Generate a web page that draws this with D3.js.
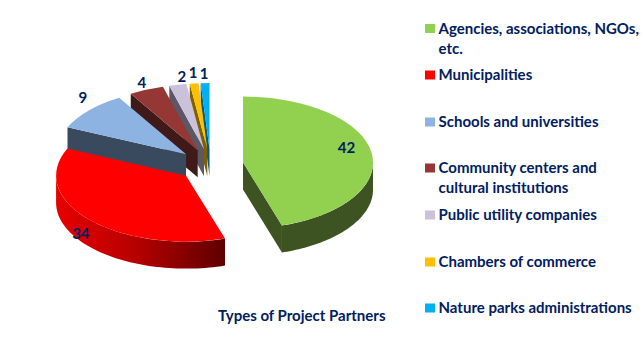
<!DOCTYPE html>
<html>
<head>
<meta charset="utf-8">
<script src="https://cdn.jsdelivr.net/npm/d3@7"></script>
<style>
html,body{margin:0;padding:0;background:#fff}
svg{display:block}
text{font-family:Lato,"Open Sans",sans-serif;font-weight:700;fill:#002060}
</style>
</head>
<body>
<script>
var WIDTH = 642, HEIGHT = 357;

var categories = ["Agencies, associations, NGOs, etc.", "Municipalities", "Schools and universities",
	"Community centers and cultural institutions", "Public utility companies",
	"Chambers of commerce", "Nature parks administrations"];
var values = [42, 34, 9, 4, 2, 1, 1];
var colors = ["#92d050", "#ff0000", "#8db3e2", "#953735", "#ccc1da", "#ffc000", "#00b0f0"];
var wallColors = ["#3d5321", "url(#redWall)", "#3a4a5e", "#3f1a19", "#5c5766", "#7f6000", "#00587a"];
var chartTitle = "Types of Project Partners";

// legend rows: text lines plus where they sit
var legendLines = [["Agencies, associations, NGOs,", "etc."], ["Municipalities"], ["Schools and universities"],
	["Community centers and", "cultural institutions"], ["Public utility companies"],
	["Chambers of commerce"], ["Nature parks administrations"]];
var legendBaseline = [33.5, 80, 127, 173, 220, 267, 313];
var labelNudge = [[-25,-6],[-8,14],[-6,-14],[-4.5,-8],[4,-9],[-1,-11],[-1,-10]];

var CX = 210.6, CY = 165, RX = 130, RY = 66, DEPTH = 27, EX = 32.8, EY = 16;

var svg = d3.select("body").append("svg").attr("width", WIDTH).attr("height", HEIGHT);

var grad = svg.append("defs").append("linearGradient")
	.attr("id", "redWall").attr("gradientUnits", "userSpaceOnUse")
	.attr("x1", 57).attr("x2", 226).attr("y1", 0).attr("y2", 0);
grad.append("stop").attr("offset", 0).attr("stop-color", "#e60000");
grad.append("stop").attr("offset", 0.45).attr("stop-color", "#b80000");
grad.append("stop").attr("offset", 1).attr("stop-color", "#5e0000");

var pie = d3.pie().sort(null).value(function(d){return d});
var slices = pie(values).map(function(d, i){
	var mid = (d.startAngle + d.endAngle) / 2;
	d.index = i;
	d.apex = [CX + EX * Math.sin(mid), CY - EY * Math.cos(mid)];
	d.mid = mid;
	return d;
});

var rim = function(d, a, drop){
	return [d.apex[0] + RX * Math.sin(a), d.apex[1] - RY * Math.cos(a) + (drop || 0)];
};
var line = d3.line();
var arc = d3.arc().innerRadius(0).outerRadius(RX);

var cutFace = function(d, a){
	return line([d.apex, rim(d, a), rim(d, a, DEPTH), [d.apex[0], d.apex[1] + DEPTH]]) + "Z";
};
var curvedWall = function(d){
	var a0 = Math.max(d.startAngle, Math.PI / 2), a1 = Math.min(d.endAngle, 3 * Math.PI / 2);
	if (a1 <= a0) return null;
	var steps = d3.range(0, 61).map(function(i){return a0 + (a1 - a0) * i / 60});
	var top = steps.map(function(a){return rim(d, a)});
	var bottom = steps.slice().reverse().map(function(a){return rim(d, a, DEPTH)});
	return line(top.concat(bottom)) + "Z";
};

// back slices first, green on top
var g = svg.append("g");
slices.slice().reverse().forEach(function(d){
	var wall = wallColors[d.index];
	if (Math.sin(d.startAngle) < -1e-6)
		g.append("path").attr("d", cutFace(d, d.startAngle)).attr("fill", wall);
	if (Math.sin(d.endAngle) > 1e-6)
		g.append("path").attr("d", cutFace(d, d.endAngle)).attr("fill", wall);
	var curve = curvedWall(d);
	if (curve) g.append("path").attr("d", curve).attr("fill", wall);
	g.append("path")
		.attr("transform", "translate(" + d.apex + ") scale(1," + (RY / RX) + ")")
		.attr("d", arc(d))
		.attr("fill", colors[d.index]);
});

svg.append("g").selectAll("text").data(slices).enter().append("text")
	.attr("x", function(d){return rim(d, d.mid)[0] + labelNudge[d.index][0]})
	.attr("y", function(d){return rim(d, d.mid)[1] + labelNudge[d.index][1]})
	.attr("text-anchor", "middle")
	.attr("dominant-baseline", "central")
	.attr("font-size", 15)
	.text(function(d){return d.value});

var legend = svg.append("g").selectAll("g").data(categories).enter().append("g");
legend.append("rect")
	.attr("x", 425).attr("width", 10).attr("height", 9)
	.attr("y", function(d, i){return legendBaseline[i] - 9.5})
	.attr("fill", function(d, i){return colors[i]});
legend.each(function(d, i){
	d3.select(this).selectAll("text").data(legendLines[i]).enter().append("text")
		.attr("x", 438.5)
		.attr("y", function(t, j){return legendBaseline[i] + j * 20})
		.attr("font-size", 15)
		.text(function(t){return t});
});

svg.append("text").attr("x", 218).attr("y", 321).attr("font-size", 15).text(chartTitle);
</script>
</body>
</html>
